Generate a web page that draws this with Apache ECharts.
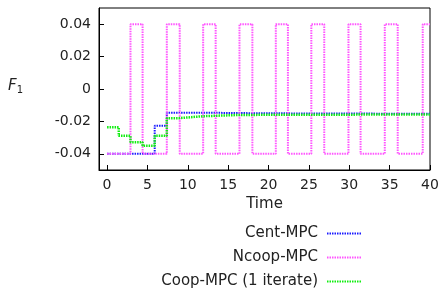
<!DOCTYPE html>
<html>
<head>
<meta charset="utf-8">
<script src="https://cdn.jsdelivr.net/npm/echarts@6/dist/echarts.min.js"></script>
<style>
	html, body { margin: 0; padding: 0; background: #fff; }
	#chart { width: 442px; height: 288px; }
</style>
</head>
<body>
<div id="chart"></div>
<script>
	// 数据
	var centT = [ 0, 5.9, 7.4, 13.4, 19.4, 40 ];
	var centF = [ -0.04, -0.0227, -0.0147, -0.015, -0.0153, -0.0155 ];

	var ncoopT = [ 0, 2.9, 4.4, 7.4, 9.0, 11.9, 13.45, 16.4, 18, 20.9, 22.4, 25.3, 26.9, 29.9, 31.4, 34.4, 36, 39.1, 40 ];
	var ncoopF = [ -0.04, 0.04, -0.04, 0.04, -0.04, 0.04, -0.04, 0.04, -0.04, 0.04, -0.04, 0.04, -0.04, 0.04, -0.04, 0.04, -0.04, 0.04, 0.04 ];

	var coopT = [ 0, 1.45, 2.9, 4.4, 5.9, 7.4, 8.9, 11.9, 16.4, 40 ];
	var coopF = [ -0.0236, -0.0289, -0.0328, -0.035, -0.0289, -0.018, -0.0168, -0.016, -0.0157, -0.0155 ];

	var xTicks = [ 0, 5, 10, 15, 20, 25, 30, 35, 40 ];
	var yTicks = [ -0.04, -0.02, 0, 0.02, 0.04 ];

	var seriesNames = [ 'Cent-MPC', 'Ncoop-MPC', 'Coop-MPC (1 iterate)' ];
	var seriesColors = [ '#1a1aff', '#ff55ff', '#11ee11' ];

	var zip = function(t, f) {
		var data = [];
		for (var i = 0; i < t.length; i++) {
			data.push([ t[i], f[i] ]);
		}
		return data;
	};

	var font = 'DejaVu Sans';
	var makeSery = function(index, data) {
		return {
			name : seriesNames[index],
			type : 'line',
			step : 'end',
			symbol : 'none',
			animation : false,
			lineStyle : {
				color : seriesColors[index],
				width : index == 2 ? 2.5 : 2,
				type : [ 1.5, 1 ]
			},
			itemStyle : {
				color : seriesColors[index]
			},
			data : data
		};
	};

	var options = {
		backgroundColor : '#fff',
		textStyle : {
			fontFamily : font
		},
		grid : {
			left : 99,
			right : 12,
			top : 8,
			bottom : 118,
			show : true,
			borderColor : '#000',
			borderWidth : 1
		},
		legend : {
			orient : 'vertical',
			align : 'right',
			right : 75,
			top : 221,
			height : 80,
			itemWidth : 34,
			itemHeight : 14,
			itemGap : 9,
			itemStyle : {
				opacity : 0
			},
			textStyle : {
				fontFamily : font,
				fontSize : 15,
				color : '#222',
				padding : [ 0, 4, 0, 0 ]
			},
			data : seriesNames
		},
		graphic : [ {
			type : 'text',
			left : 8,
			top : 79,
			style : {
				text : '{f|F}{s|1}',
				rich : {
					f : {
						fontFamily : font,
						fontSize : 15,
						fontStyle : 'italic',
						fill : '#222'
					},
					s : {
						fontFamily : font,
						fontSize : 10,
						fill : '#222',
						padding : [ 8, 0, 0, 0 ]
					}
				}
			}
		} ],
		xAxis : {
			type : 'value',
			min : -1,
			max : 40,
			name : 'Time',
			nameLocation : 'middle',
			nameGap : 22,
			nameTextStyle : {
				fontFamily : font,
				fontSize : 15,
				color : '#222'
			},
			splitLine : {
				show : false
			},
			axisLine : {
				onZero : false,
				lineStyle : {
					color : '#000'
				}
			},
			axisTick : {
				inside : true,
				length : 5,
				customValues : xTicks,
				lineStyle : {
					color : '#000'
				}
			},
			axisLabel : {
				margin : 8,
				customValues : xTicks,
				fontFamily : font,
				fontSize : 14,
				color : '#222'
			}
		},
		yAxis : {
			type : 'value',
			min : -0.05,
			max : 0.05,
			splitLine : {
				show : false
			},
			axisLine : {
				show : true,
				onZero : false,
				lineStyle : {
					color : '#000'
				}
			},
			axisTick : {
				show : true,
				inside : true,
				length : 5,
				customValues : yTicks,
				lineStyle : {
					color : '#000'
				}
			},
			axisLabel : {
				margin : 8,
				customValues : yTicks,
				fontFamily : font,
				fontSize : 14,
				color : '#222',
				formatter : function(v) {
					return v === 0 ? '0' : v.toFixed(2);
				}
			}
		},
		series : [ makeSery(0, zip(centT, centF)), makeSery(1, zip(ncoopT, ncoopF)), makeSery(2, zip(coopT, coopF)) ]
	};

	var chart = echarts.init(document.getElementById('chart'));
	chart.setOption(options);
</script>
</body>
</html>
